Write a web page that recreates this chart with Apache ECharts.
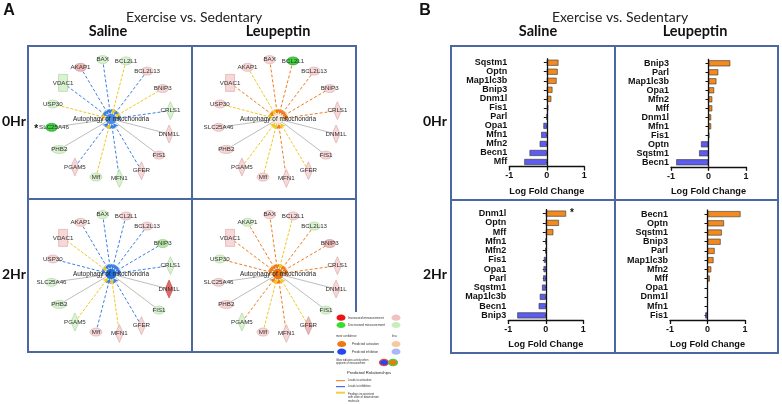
<!DOCTYPE html>
<html><head><meta charset="utf-8">
<script src="https://cdn.jsdelivr.net/npm/echarts@6/dist/echarts.min.js"></script>
<style>html,body{margin:0;padding:0;background:#fff}#c{width:782px;height:404px}</style>
</head><body><div id="c"></div>
<script>
// ---------------- Panel B: bar data ----------------
const catsSal0 = ['Sqstm1','Optn','Map1lc3b','Bnip3','Dnm1l','Fis1','Parl','Opa1','Mfn1','Mfn2','Becn1','Mff'];
const valsSal0 = [0.31,0.29,0.26,0.15,0.12,0.04,0,-0.09,-0.15,-0.19,-0.46,-0.60];
const catsLeu0 = ['Bnip3','Parl','Map1lc3b','Opa1','Mfn2','Mff','Dnm1l','Mfn1','Fis1','Optn','Sqstm1','Becn1'];
const valsLeu0 = [0.58,0.26,0.21,0.15,0.10,0.10,0.07,0.07,0.02,-0.20,-0.25,-0.86];
const catsSal2 = ['Dnm1l','Optn','Mff','Mfn1','Mfn2','Fis1','Opa1','Parl','Sqstm1','Map1lc3b','Becn1','Bnip3'];
const valsSal2 = [0.54,0.35,0.20,0,-0.01,-0.05,-0.06,-0.07,-0.10,-0.16,-0.19,-0.76];
const sigSal2  = ['*','','','','','','','','','','',''];
const catsLeu2 = ['Becn1','Optn','Sqstm1','Bnip3','Parl','Map1lc3b','Mfn2','Mff','Opa1','Dnm1l','Mfn1','Fis1'];
const valsLeu2 = [0.88,0.44,0.38,0.35,0.19,0.16,0.10,0.06,0,0,0,-0.06];
const xTickMin = -1, xTickMax = 1, xTickStep = 1;

// ---------------- Panel A: network data ----------------
const centerName = 'Autophagy of mitochondria';
const netGenes  = ['CRLS1','BNIP3','BCL2L13','BCL2L1','BAX','AKAP1','VDAC1','USP30','SLC25A46','PHB2','PGAM5','Mff','MFN1','GFER','FIS1','DNM1L'];
const netShapes = ['diamond','ellipse','ellipse','ellipse','ellipse','ellipse','rect','ellipse','ellipse','ellipseW','diamond','ellipse','diamond','diamond','ellipse','diamond'];
// measurement: U/U2/U3 increased (light..strong), D/D2/D3 decreased
const nodesSal0 = ['D','U','U','D','D','U2','D','D','D3','D','U','D','D','U','U','U'];
const edgesSal0 = ['inh','inc','inh','inc','inh','inh','inh','inc','none','none','inh','inc','inh','inh','none','none'];
const nodesLeu0 = ['U','U','U','D3','U','U','U','U','U','U','U','U','U','U','U','U'];
const edgesLeu0 = ['act','act','act','act','act','inc','act','inc','none','none','inc','inc','act','inc','none','none'];
const nodesSal2 = ['D','D2','U','U','D','U','U','U','D','D','D','U','U','U','D','U3'];
const edgesSal2 = ['inh','inh','inh','inh','inh','inh','inc','inh','none','none','inc','inh','inc','inh','none','none'];
const nodesLeu2 = ['U','U2','D','U','U','D','U','D','U','U','D','U','U','U2','D','U'];
const edgesLeu2 = ['act','act','act','inc','act','act','act','act','none','none','act','inc','act','inc','none','none'];
const centerStates = ['inh','none','inh2','act2'];
const netStar = [['SLC25A46'],[],[],[]];

// ---------------- styles ----------------
const FONT_BAR = 'Liberation Sans, Arial, sans-serif';
const FONT_T = 'Lato, sans-serif';
const ORANGE = '#f38a1f', BLUE = '#5c5cee';
const nodeFill = {U:['#f7d7d7','#d9a9a9'],U2:['#efb9b9','#cf8f8f'],U3:['#e26a6a','#bf4a4a'],
  D:['#dbf2d2','#a8d29b'],D2:['#b7e7a7','#86c476'],D3:['#3fcf3f','#20a020']};
const centerFill = {inh:['#4a8ee8','#3a74c8'],inh2:['#1f6ee0','#1656b8'],act2:['#ea760f','#c45e08'],none:['#faefe6','#dcc5b4']};
const shapeSym = {ellipse:'path://M0,4A6,4,0,1,1,12,4A6,4,0,1,1,0,4Z', ellipseW:'path://M0,4A6,4,0,1,1,12,4A6,4,0,1,1,0,4Z', diamond:'diamond', rect:'rect'};
const shapeSize = {ellipse:[12,8], ellipseW:[15,8], diamond:[8,18], rect:[9,17]};
const edgeStyle = {inh:{color:'#3a7ee2',type:[3,2],width:1}, act:{color:'#ef7b1a',type:[3,2],width:1},
  inc:{color:'#efc824',type:[3,1.5],width:1}, none:{color:'#a0a0a0',type:'solid',width:0.7}};

const polarCenters = [[111,119],[278,119],[111,274],[278,274]];
const netNodes = [nodesSal0,nodesLeu0,nodesSal2,nodesLeu2];
const netEdges = [edgesSal0,edgesLeu0,edgesSal2,edgesLeu2];

function netSeries(p){
  const cs = centerFill[centerStates[p]];
  const nodes = [{name:centerName, value:[0,0], symbol:'circle', symbolSize:10,
    itemStyle:{color:cs[0], borderColor:cs[1], borderWidth:0.6},
    label:{fontSize:6.4, color:'#222'}}];
  netGenes.forEach((g,i)=>{
    const f = nodeFill[netNodes[p][i]];
    const star = netStar[p].indexOf(g) >= 0;
    nodes.push({name:g, value:[1,i], symbol:shapeSym[netShapes[i]], symbolSize:shapeSize[netShapes[i]],
      itemStyle:{color:f[0], borderColor:f[1], borderWidth:0.6},
      label: star ? {formatter:'{s|*}{n|'+g+'}', rich:{s:{fontSize:10,fontWeight:'bold',color:'#111',padding:[3,1,0,0]},n:{fontSize:6.2,color:'#333'}}} : {}});
  });
  const links = netGenes.map((g,i)=>{
    const t = netEdges[p][i];
    return {source:g, target:centerName, symbol:['none', t==='none'?'none':'arrow'], symbolSize:[2,5],
      lineStyle:Object.assign({opacity:1, curveness:0}, edgeStyle[t])};
  });
  return {type:'graph', coordinateSystem:'polar', polarIndex:p, layout:'none', silent:true,
    animation:false, emphasis:{disabled:true}, data:nodes, links:links, z:3,
    label:{show:true, position:'inside', fontSize:6.2, color:'#333', fontFamily:FONT_BAR}};
}

const barSets = [
  {cats:catsSal0, vals:valsSal0, sig:null,   left:509.3, top:58.2, width:75, height:108.3},
  {cats:catsLeu0, vals:valsLeu0, sig:null,   left:671,   top:58.8, width:75, height:108},
  {cats:catsSal2, vals:valsSal2, sig:sigSal2, left:508.3, top:209,  width:75, height:111},
  {cats:catsLeu2, vals:valsLeu2, sig:null,   left:670,   top:209.5, width:75, height:110.5}
];

const option = {
  animation:false,
  polar: polarCenters.map(c=>({center:c, radius:60})),
  radiusAxis: polarCenters.map((c,i)=>({polarIndex:i, type:'value', min:0, max:1, show:false})),
  angleAxis: polarCenters.map((c,i)=>({polarIndex:i, type:'value', min:0, max:16, startAngle:8, clockwise:false, show:false})),
  grid: barSets.map(b=>({left:b.left, top:b.top, width:b.width, height:b.height, containLabel:false, outerBoundsMode:'none'})),
  xAxis: barSets.map((b,i)=>({gridIndex:i, type:'value', min:xTickMin, max:xTickMax, interval:xTickStep,
    axisLine:{show:true, lineStyle:{color:'#111', width:1.3}},
    axisTick:{show:true, length:4, lineStyle:{color:'#111', width:1.3}},
    axisLabel:{fontSize:9, fontWeight:'bold', color:'#111', margin:5, fontFamily:FONT_BAR},
    splitLine:{show:false},
    name:'Log Fold Change', nameLocation:'middle', nameGap:20,
    nameTextStyle:{fontSize:9.2, fontWeight:'bold', color:'#111', fontFamily:FONT_BAR}})),
  yAxis: barSets.map((b,i)=>({gridIndex:i, type:'category', data:b.cats, inverse:true,
    axisLine:{show:false},
    axisTick:{show:true, length:3, alignWithLabel:true, lineStyle:{color:'#111', width:1}},
    axisLabel:{fontSize:9, fontWeight:'bold', color:'#111', margin:2, fontFamily:FONT_BAR, interval:0},
    splitLine:{show:false}})),
  series: [0,1,2,3].map(netSeries).concat(barSets.map((b,i)=>({
    type:'bar', xAxisIndex:i, yAxisIndex:i, barWidth:6, silent:true, z:3,
    data: b.vals.map((v,j)=>({value:v, label: (b.sig && b.sig[j]) ? {show:true, position:'right', distance:4,
      formatter:b.sig[j], fontSize:10, fontWeight:'bold', color:'#111', fontFamily:FONT_BAR} : {show:false}})),
    itemStyle:{color:p=>p.value>=0?ORANGE:BLUE, borderColor:'#333', borderWidth:0.6},
    markLine:{silent:true, symbol:'none', label:{show:false}, animation:false,
      lineStyle:{color:'#111', width:1.3, type:'solid'}, data:[{xAxis:0}]}
  }))),
  graphic: (function(){
    const el = [];
    const box = (x,y,w,h)=>el.push({type:'rect', z:1, silent:true, shape:{x,y,width:w,height:h},
      style:{fill:'none', stroke:'#4b68a3', lineWidth:2}});
    box(28,46,164,153); box(192,46,164,153); box(28,199,164,153); box(192,199,164,153);
    box(451,46,164,154); box(615,46,163,154); box(451,200,164,153); box(615,200,163,153);
    const txt = (s,x,y,size,weight,family,color,align)=>el.push({type:'text', z:50, silent:true, x, y,
      style:{text:s, fontSize:size, fontWeight:weight||'normal', fontFamily:family||FONT_T, fill:color||'#111',
        align:align||'center', verticalAlign:'middle'}});
    txt('A',9,11,16,'bold',FONT_BAR); txt('B',425,11,16,'bold',FONT_BAR);
    txt('Exercise vs. Sedentary',194,17,14,'normal',FONT_T,'#222');
    txt('Exercise vs. Sedentary',620,17,14,'normal',FONT_T,'#222');
    txt('Saline',108,31,14.5,'bold'); txt('Leupeptin',278,31,14.5,'bold');
    txt('Saline',538,31,14.5,'bold'); txt('Leupeptin',695,31,14.5,'bold');
    txt('0Hr',14,121,14,'bold'); txt('2Hr',14,274,14,'bold');
    txt('0Hr',435,121,14,'bold'); txt('2Hr',435,274,14,'bold');
    // IPA legend
    el.push({type:'rect', z:60, silent:true, shape:{x:334,y:312,width:70,height:92}, style:{fill:'#fff'}});
    const ell = (cx,cy,c,stroke)=>el.push({type:'ellipse', z:61, silent:true, shape:{cx,cy,rx:4.5,ry:3.1},
      style:{fill:c, stroke:stroke||'none', lineWidth:stroke?1.2:0}});
    const lt = (s,x,y,size,color)=>el.push({type:'text', z:61, silent:true, x, y,
      style:{text:s, fontSize:size, fontFamily:FONT_BAR, fill:color||'#333', align:'left', verticalAlign:'middle', lineHeight:size*1.3}});
    ell(341,317.7,'#ee1414'); lt('Increased measurement',348,317.7,3.3); ell(396,317.7,'#f2c2c2');
    ell(341,325,'#35dd35'); lt('Decreased measurement',348,325,3.3); ell(396,325,'#c6efbd');
    lt('more confidence',336,336,2.8); lt('less',392,336,2.8);
    ell(341.7,344,'#f07810'); lt('Predicted activation',352,344,3.1); ell(396,344,'#f7c89c');
    ell(341.7,351.7,'#2448f0'); lt('Predicted inhibition',352,351.7,3.1); ell(396,351.7,'#aab8f2');
    lt('Glow indicates activity when\nopposite of measurement',336,362,2.6);
    ell(384,362.5,'#2448f0','#f04040'); ell(393,362.5,'#f07810','#40d040');
    lt('Predicted Relationships',347,373,4.2,'#222');
    const ln = (y,c,w)=>el.push({type:'line', z:61, silent:true, shape:{x1:336,y1:y,x2:345,y2:y}, style:{stroke:c, lineWidth:w}});
    ln(380.7,'#f07810',1); lt('Leads to activation',348,380.7,2.8);
    ln(386.7,'#2448f0',1); lt('Leads to inhibition',348,386.7,2.8);
    ln(392.7,'#eed040',2); lt('Findings inconsistent\nwith state of downstream\nmolecule',348,397.5,2.8);
    return el;
  })()
};

const chart = echarts.init(document.getElementById('c'), null, {renderer:'canvas', width:782, height:404});
chart.setOption(option);
</script>
</body></html>
